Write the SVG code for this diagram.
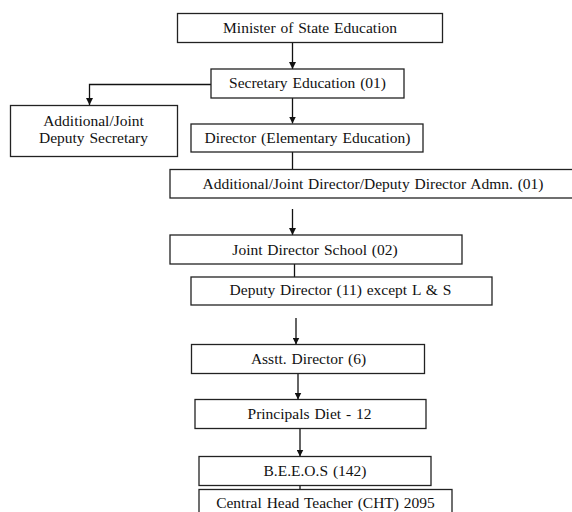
<svg xmlns="http://www.w3.org/2000/svg" width="572" height="512" viewBox="0 0 572 512">
<style>
.box{fill:#fff;stroke:#222;stroke-width:1.3}
.t{font-family:"Liberation Serif","Times New Roman",serif;font-size:15.5px;fill:#111;text-anchor:middle;word-spacing:1px}
.c{fill:none;stroke:#111;stroke-width:1.3}
</style>
<defs>
<marker id="ah" viewBox="0 0 10 10" refX="10" refY="5" markerWidth="7" markerHeight="7" markerUnits="userSpaceOnUse" orient="auto">
<path d="M0,0 L10,5 L0,10 Z" fill="#111"/>
</marker>
</defs>
<rect width="572" height="512" fill="#fff"/>
<g id="connectors">
<path class="c" d="M292.5,42.5 V69" marker-end="url(#ah)"/>
<path class="c" d="M211,84.5 H89.5 V105" marker-end="url(#ah)"/>
<path class="c" d="M292.5,98 V123.5" marker-end="url(#ah)"/>
<path class="c" d="M292.5,152 V169.5"/>
<path class="c" d="M292.5,209 V235" marker-end="url(#ah)"/>
<path class="c" d="M294.5,264 V277"/>
<path class="c" d="M296,318 V344.5" marker-end="url(#ah)"/>
<path class="c" d="M298,374 V399.5" marker-end="url(#ah)"/>
<path class="c" d="M300,428.5 V456.5" marker-end="url(#ah)"/>
<path class="c" d="M300,485.5 V489.5"/>
</g>
<g id="minister">
<rect class="box" x="177.5" y="13.5" width="265" height="29"/>
<text class="t" x="310" y="33">Minister of State Education</text>
</g>
<g id="secretary">
<rect class="box" x="211" y="69" width="193" height="29"/>
<text class="t" x="307.5" y="88">Secretary Education (01)</text>
</g>
<g id="addl-deputy-secretary">
<rect class="box" x="10.5" y="105.5" width="167" height="51"/>
<text class="t" x="93.5" y="126">Additional/Joint</text>
<text class="t" x="93.5" y="143">Deputy Secretary</text>
</g>
<g id="director">
<rect class="box" x="191" y="124" width="232" height="28"/>
<text class="t" x="307.5" y="143">Director (Elementary Education)</text>
</g>
<g id="admn">
<rect class="box" x="170" y="169.5" width="410" height="28.5"/>
<text class="t" x="373" y="189">Additional/Joint Director/Deputy Director Admn. (01)</text>
</g>
<g id="joint-director-school">
<rect class="box" x="170" y="235" width="292" height="29"/>
<text class="t" x="315" y="255">Joint Director School (02)</text>
</g>
<g id="deputy-director">
<rect class="box" x="191" y="277" width="301" height="28"/>
<text class="t" x="340.5" y="295">Deputy Director (11) except L &amp; S</text>
</g>
<g id="asst-director">
<rect class="box" x="191.5" y="344.5" width="233" height="29"/>
<text class="t" x="308.5" y="364">Asstt. Director (6)</text>
</g>
<g id="principals">
<rect class="box" x="195" y="399.5" width="231" height="29"/>
<text class="t" x="309.5" y="419">Principals  Diet - 12</text>
</g>
<g id="beeos">
<rect class="box" x="199" y="456.5" width="232" height="29"/>
<text class="t" x="315" y="476">B.E.E.O.S (142)</text>
</g>
<g id="cht">
<rect class="box" x="199" y="489.5" width="253" height="30"/>
<text class="t" x="325.5" y="508">Central Head Teacher (CHT) 2095</text>
</g>
</svg>
